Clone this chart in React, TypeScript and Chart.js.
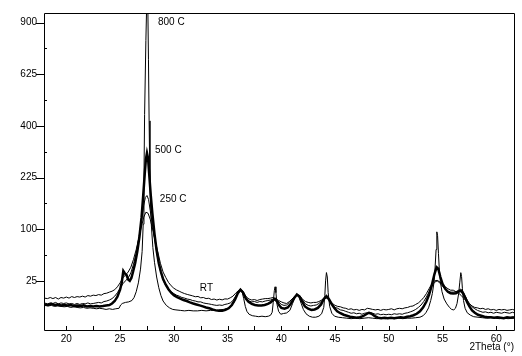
import React, { useEffect, useRef } from 'react';
import { Chart, registerables, LinearScale } from 'chart.js';

// 2Theta (deg) / counts pairs
const rtPattern: [number, number][] = [[17.95,11.1],[18.25,10.8],[18.5,11.5],[18.75,10.8],[19.0,11.5],[19.25,10.5],[19.5,11.5],[19.75,11.1],[20.0,11.8],[20.25,11.1],[20.5,12.1],[20.75,11.5],[21.0,12.1],[21.25,11.8],[21.5,12.4],[21.75,11.8],[22.0,12.8],[22.25,12.4],[22.5,13.1],[22.75,12.8],[23.0,13.5],[23.25,13.1],[23.5,14.2],[23.75,14.5],[24.0,15.3],[24.25,16.0],[24.5,17.2],[24.75,19.6],[25.0,23.1],[25.25,27.9],[25.5,31.0],[25.75,34.3],[26.0,40.0],[26.25,50.2],[26.5,64.6],[26.75,84],[27.0,106.4],[27.2,124.7],[27.4,135.7],[27.6,133.4],[27.8,120.5],[28.0,102.5],[28.25,80.7],[28.5,61.6],[28.75,45.0],[29.0,34.3],[29.25,28.4],[29.5,23.6],[29.75,20.5],[30.0,18.4],[30.25,17.0],[30.5,16.0],[30.75,15.0],[31.0,14.2],[31.25,13.6],[31.5,13.1],[31.75,12.6],[32.0,12.0],[32.25,12.2],[32.5,11.3],[32.75,11.5],[33.0,10.8],[33.25,11.0],[33.5,10.2],[33.75,10.5],[34.0,9.9],[34.25,10.4],[34.5,10.0],[34.75,10.6],[35.0,10.5],[35.25,11.3],[35.5,12.4],[35.75,14.5],[36.0,16.4],[36.2,17.6],[36.4,16.4],[36.6,13.5],[36.8,11.5],[37.0,10.5],[37.25,9.9],[37.5,10.2],[37.75,9.6],[38.0,10.2],[38.25,10.5],[38.5,10.8],[38.75,10.8],[39.0,11.1],[39.25,11.5],[39.5,10.8],[39.75,9.6],[40.0,8.8],[40.25,8.2],[40.5,7.9],[40.75,9.0],[41.0,10.5],[41.25,12.4],[41.5,13.5],[41.75,12.4],[42.0,10.2],[42.25,9.0],[42.5,8.5],[42.75,8.2],[43.0,8.5],[43.25,8.5],[43.5,9.0],[43.75,9.9],[44.0,10.8],[44.2,11.1],[44.4,10.5],[44.6,9.0],[44.8,7.7],[45.0,6.9],[45.25,6.4],[45.5,6.2],[45.75,5.7],[46.0,5.5],[46.25,5.0],[46.5,5.3],[46.75,4.8],[47.0,5.0],[47.25,4.6],[47.5,5.0],[47.75,4.8],[48.0,5.5],[48.25,5.3],[48.5,5.0],[48.75,4.8],[49.0,5.0],[49.25,4.6],[49.5,5.0],[49.75,4.8],[50.0,5.0],[50.25,5.3],[50.5,4.8],[50.75,5.3],[51.0,5.5],[51.25,5.3],[51.5,5.7],[51.75,5.9],[52.0,6.4],[52.25,6.6],[52.5,7.4],[52.75,8.2],[53.0,9.6],[53.25,11.5],[53.5,14.2],[53.75,18.0],[54.0,22.2],[54.25,25.0],[54.5,25.5],[54.75,24.1],[55.0,21.8],[55.25,19.6],[55.5,18.0],[55.75,16.8],[56.0,16.8],[56.25,15.6],[56.5,14.5],[56.75,12.8],[57.0,10.8],[57.25,9.0],[57.5,7.7],[57.75,6.6],[58.0,5.9],[58.25,5.7],[58.5,5.3],[58.75,5.5],[59.0,5.0],[59.25,5.3],[59.5,4.8],[59.75,5.0],[60.0,4.6],[60.25,5.0],[60.5,4.8],[60.75,5.0],[61.0,4.6],[61.25,4.8],[61.5,5.0],[61.65,4.8]];

const pattern250: [number, number][] = [[17.95,8.2],[18.25,7.7],[18.5,8.2],[18.75,7.9],[19.0,8.5],[19.25,7.7],[19.5,8.2],[19.75,7.9],[20.0,8.2],[20.25,7.7],[20.5,7.9],[20.75,7.4],[21.0,7.9],[21.25,7.4],[21.5,7.9],[21.75,7.7],[22.0,8.2],[22.25,7.7],[22.5,7.9],[22.75,8.2],[23.0,8.5],[23.25,8.2],[23.5,9.0],[23.75,9.3],[24.0,9.9],[24.25,10.8],[24.5,12.4],[24.75,14.9],[25.0,18.4],[25.25,22.2],[25.5,25.0],[25.75,27.9],[26.0,33.2],[26.25,43.8],[26.5,58.8],[26.75,84],[27.0,118.6],[27.2,151.9],[27.35,171],[27.5,175.9],[27.65,165.8],[27.8,140],[28.0,110.3],[28.25,77.4],[28.5,51.6],[28.75,35.4],[29.0,26.0],[29.25,20.5],[29.5,17.6],[29.75,15.6],[30.0,14.2],[30.25,13.1],[30.5,12.4],[30.75,11.5],[31.0,11.1],[31.25,10.5],[31.5,10.2],[31.75,9.6],[32.0,9.3],[32.25,8.8],[32.5,8.8],[32.75,8.2],[33.0,7.9],[33.25,7.7],[33.5,7.4],[33.75,7.1],[34.0,6.9],[34.25,7.1],[34.5,6.9],[34.75,7.4],[35.0,7.7],[35.25,8.2],[35.5,9.6],[35.75,12.4],[36.0,15.6],[36.2,17.2],[36.4,15.6],[36.6,12.4],[36.8,10.2],[37.0,9.3],[37.25,8.8],[37.5,9.0],[37.75,8.5],[38.0,9.0],[38.25,8.8],[38.5,9.3],[38.75,9.6],[39.0,9.9],[39.25,10.5],[39.45,11.1],[39.65,9.6],[39.85,8.2],[40.0,7.4],[40.25,6.9],[40.5,7.1],[40.75,8.5],[41.0,10.5],[41.25,12.4],[41.5,13.1],[41.75,12.1],[42.0,9.6],[42.25,7.7],[42.5,6.9],[42.75,6.6],[43.0,6.9],[43.25,7.1],[43.5,7.9],[43.75,9.3],[44.0,10.8],[44.2,11.8],[44.4,10.5],[44.6,8.5],[44.8,6.9],[45.0,5.9],[45.25,5.5],[45.5,4.8],[45.75,4.6],[46.0,4.2],[46.25,3.84],[46.5,3.48],[46.75,3.66],[47.0,3.3],[47.25,3.48],[47.5,3.13],[47.75,3.48],[48.0,3.66],[48.25,3.84],[48.5,3.48],[48.75,3.13],[49.0,3.3],[49.25,2.97],[49.5,3.13],[49.75,2.97],[50.0,3.13],[50.25,2.97],[50.5,3.3],[50.75,3.13],[51.0,3.3],[51.25,3.13],[51.5,3.48],[51.75,3.66],[52.0,4.0],[52.25,4.4],[52.5,5.0],[52.75,5.9],[53.0,7.1],[53.25,9.0],[53.5,11.8],[53.75,15.6],[54.0,20.0],[54.25,23.6],[54.5,25.0],[54.75,23.1],[55.0,20.0],[55.25,17.6],[55.5,16.0],[55.75,15.3],[56.0,15.3],[56.25,15.6],[56.5,16.8],[56.7,17.6],[56.9,16.0],[57.1,12.8],[57.3,9.9],[57.5,7.9],[57.75,6.2],[58.0,5.3],[58.25,4.6],[58.5,4.2],[58.75,3.84],[59.0,4.0],[59.25,3.66],[59.5,3.84],[59.75,3.48],[60.0,3.84],[60.25,3.66],[60.5,3.48],[60.75,3.84],[61.0,3.66],[61.25,3.48],[61.5,3.84],[61.65,3.66]];

const pattern500: [number, number][] = [[17.95,7.4],[18.3,7.1],[18.6,7.7],[18.9,7.1],[19.2,7.4],[19.5,6.9],[19.8,7.1],[20.1,6.9],[20.4,7.1],[20.7,6.6],[21.0,6.9],[21.3,6.6],[21.6,6.9],[21.9,6.4],[22.2,6.6],[22.5,6.4],[22.8,6.6],[23.1,6.4],[23.4,6.6],[23.7,6.9],[24.0,7.1],[24.25,7.9],[24.5,9.3],[24.75,12.1],[25.0,17.2],[25.15,23.1],[25.3,35.4],[25.45,32.6],[25.6,31.0],[25.75,26.4],[25.9,25.0],[26.05,27.9],[26.2,34.3],[26.4,45.0],[26.6,61.6],[26.8,86],[27.0,124.7],[27.15,175.9],[27.3,238.6],[27.4,281],[27.5,302],[27.6,284.6],[27.7,238.6],[27.85,178],[28.0,133.4],[28.2,91.2],[28.4,63],[28.6,45],[28.8,34.3],[29.0,26.9],[29.25,21.4],[29.5,17.6],[29.75,14.9],[30.0,13.1],[30.3,11.8],[30.6,10.8],[30.9,9.9],[31.2,9.3],[31.5,8.5],[31.8,7.9],[32.1,7.4],[32.4,6.9],[32.7,6.4],[33.0,5.9],[33.3,5.5],[33.6,5.0],[33.9,4.6],[34.2,4.4],[34.5,4.4],[34.8,4.8],[35.1,5.5],[35.4,7.1],[35.7,10.2],[35.95,14.5],[36.2,17.2],[36.45,14.9],[36.7,10.8],[36.95,8.8],[37.25,7.7],[37.55,7.1],[37.85,6.9],[38.15,6.9],[38.45,7.1],[38.75,7.7],[39.0,8.5],[39.2,9.6],[39.4,10.5],[39.6,9.0],[39.8,6.9],[40.0,5.7],[40.3,5.3],[40.6,5.9],[40.9,7.9],[41.2,11.1],[41.45,13.5],[41.7,12.1],[41.95,8.8],[42.2,6.4],[42.5,5.3],[42.8,4.8],[43.1,5.0],[43.4,5.7],[43.7,7.4],[43.95,10.5],[44.2,12.4],[44.45,10.2],[44.7,7.4],[44.95,5.5],[45.2,4.2],[45.5,3.48],[45.8,2.97],[46.1,2.66],[46.4,2.35],[46.7,2.2],[47.0,2.06],[47.3,2.2],[47.6,2.5],[47.9,3.13],[48.15,3.66],[48.4,3.3],[48.7,2.5],[49.0,2.06],[49.3,1.93],[49.6,2.06],[49.9,1.93],[50.2,2.06],[50.5,1.93],[50.8,2.06],[51.1,2.2],[51.4,2.06],[51.7,2.35],[52.0,2.5],[52.3,2.81],[52.6,3.3],[52.9,4.22],[53.2,5.93],[53.5,9.0],[53.75,13.5],[54.0,20.9],[54.25,32.1],[54.45,40.0],[54.6,38.3],[54.8,28.9],[55.0,22.2],[55.25,18.0],[55.5,15.6],[55.75,14.5],[56.0,14.2],[56.25,14.5],[56.5,15.6],[56.7,16.4],[56.9,14.5],[57.1,11.5],[57.3,8.5],[57.5,6.4],[57.75,4.6],[58.0,3.66],[58.3,2.97],[58.6,2.66],[58.9,2.35],[59.2,2.2],[59.5,2.2],[59.8,2.06],[60.1,2.2],[60.4,2.06],[60.7,1.93],[61.0,2.2],[61.3,2.06],[61.65,2.2]];

const pattern800: [number, number][] = [[17.95,6.9],[18.3,6.6],[18.6,6.9],[18.9,6.4],[19.2,6.6],[19.5,6.4],[19.8,6.2],[20.1,6.4],[20.4,5.9],[20.7,6.2],[21.0,5.9],[21.3,5.7],[21.6,5.9],[21.9,5.5],[22.2,5.7],[22.5,5.5],[22.8,5.3],[23.1,5.5],[23.4,5.3],[23.7,5.0],[24.0,5.3],[24.3,5.0],[24.6,5.3],[24.9,5.5],[25.05,7.1],[25.2,7.9],[25.5,8.5],[25.8,8.8],[26.1,9.6],[26.3,11.5],[26.5,15.6],[26.7,23.1],[26.9,37.7],[27.05,61.6],[27.15,110],[27.22,220],[27.28,446],[27.4,800],[27.52,1150],[27.58,1000],[27.64,700],[27.7,420],[27.78,196.6],[27.9,110.3],[28.05,67.6],[28.2,46.2],[28.4,28.9],[28.6,18.8],[28.8,12.8],[29.0,9.3],[29.3,6.9],[29.6,5.7],[29.9,5.0],[30.2,4.8],[30.6,4.6],[31.0,4.4],[31.4,4.6],[31.8,4.4],[32.2,4.4],[32.6,4.6],[33.0,4.4],[33.4,4.6],[33.8,4.6],[34.2,4.8],[34.6,5.0],[35.0,5.5],[35.3,6.2],[35.6,8.5],[35.85,12.8],[36.05,16.4],[36.2,17.6],[36.35,15.6],[36.5,10.8],[36.65,6.4],[36.8,4.2],[37.0,3.13],[37.3,2.66],[37.6,2.5],[37.9,2.35],[38.2,2.5],[38.5,2.35],[38.8,2.5],[39.0,2.81],[39.15,3.84],[39.25,8.5],[39.35,16.4],[39.42,19.6],[39.5,14.9],[39.6,7.4],[39.75,4.2],[39.95,3.13],[40.2,3.4],[40.5,3.6],[40.8,4.63],[41.05,7.93],[41.25,11.5],[41.45,13.1],[41.65,11.5],[41.85,7.93],[42.05,5.0],[42.3,3.3],[42.6,2.5],[42.9,2.2],[43.2,2.2],[43.5,2.5],[43.75,3.3],[43.95,5.93],[44.05,12.8],[44.12,25.0],[44.2,33.7],[44.28,28.9],[44.36,14.9],[44.5,6.4],[44.7,3.48],[44.95,2.5],[45.3,2.2],[45.7,2.06],[46.1,1.93],[46.5,1.8],[46.9,1.93],[47.3,1.8],[47.7,1.93],[48.1,2.06],[48.5,1.93],[48.9,1.8],[49.3,1.93],[49.7,1.8],[50.1,1.93],[50.5,1.8],[50.9,1.93],[51.3,1.8],[51.7,1.93],[52.1,1.93],[52.5,2.06],[52.9,2.2],[53.2,2.66],[53.45,3.66],[53.7,5.7],[53.9,9.6],[54.05,14.2],[54.2,23.1],[54.3,37.7],[54.4,64.6],[54.47,95.0],[54.54,88.0],[54.62,58.8],[54.7,37.7],[54.8,24.1],[54.95,15.6],[55.15,10.5],[55.4,7.7],[55.65,5.9],[55.85,5.0],[56.05,4.8],[56.2,5.5],[56.35,7.9],[56.5,14.2],[56.6,23.1],[56.7,33.6],[56.77,29.5],[56.85,18.0],[56.95,9.6],[57.1,5.5],[57.3,3.66],[57.6,2.81],[57.9,2.35],[58.3,2.2],[58.7,2.06],[59.1,1.93],[59.5,2.06],[59.9,1.93],[60.3,1.8],[60.7,1.93],[61.1,1.8],[61.65,1.93]];

const seriesNames = ['RT', '250 C', '500 C', '800 C'];
const xTickValues = [20, 25, 30, 35, 40, 45, 50, 55, 60];
const xMinorTicks = [22.5, 27.5, 32.5, 37.5, 42.5, 47.5, 52.5, 57.5];
const yTickValues = [25, 100, 225, 400, 625, 900];
const yMinorTicks = [56.25, 156.25, 306.25, 506.25, 756.25];
// annotation positions in data units: [2Theta, counts]
const labelAnchors: [number, number][] = [[32.42, 18.0], [28.7, 166], [28.24, 311], [28.52, 900]];

const FONT = '"Liberation Sans", Arial, sans-serif';

class SqrtScale extends LinearScale {
  static id = 'sqrt';
  static defaults = {};
  getPixelForValue(value: number) {
    const lo = Math.sqrt(this.min);
    const hi = Math.sqrt(this.max);
    return this.getPixelForDecimal((Math.sqrt(Math.max(value, 0)) - lo) / (hi - lo));
  }
  getValueForPixel(pixel: number) {
    const lo = Math.sqrt(this.min);
    const hi = Math.sqrt(this.max);
    const s = lo + this.getDecimalForPixel(pixel) * (hi - lo);
    return s * s;
  }
}

Chart.register(...registerables, SqrtScale);

const framePlugin = {
  id: 'xrdFrame',
  afterDraw(chart: any) {
    const { ctx, chartArea: a, scales } = chart;
    const x = scales.x;
    const y = scales.y;
    ctx.save();
    ctx.strokeStyle = '#000';
    ctx.lineWidth = 1;
    ctx.beginPath();
    ctx.rect(a.left + 0.5, a.top + 0.5, a.right - a.left, a.bottom - a.top);
    yTickValues.forEach((v) => {
      const py = Math.round(y.getPixelForValue(v)) + 0.5;
      ctx.moveTo(a.left - 8, py);
      ctx.lineTo(a.left, py);
    });
    yMinorTicks.forEach((v) => {
      const py = Math.round(y.getPixelForValue(v)) + 0.5;
      ctx.moveTo(a.left, py);
      ctx.lineTo(a.left + 3, py);
    });
    [...xTickValues, ...xMinorTicks].forEach((v) => {
      const px = Math.round(x.getPixelForValue(v)) + 0.5;
      ctx.moveTo(px, a.bottom);
      ctx.lineTo(px, a.bottom - 4);
    });
    ctx.stroke();

    ctx.fillStyle = '#000';
    ctx.font = `10px ${FONT}`;
    ctx.textBaseline = 'middle';
    ctx.textAlign = 'left';
    labelAnchors.forEach(([t, c], i) => {
      ctx.fillText(seriesNames[i], x.getPixelForValue(t), y.getPixelForValue(c));
    });
    ctx.textAlign = 'right';
    ctx.fillText('2Theta (°)', a.right, a.bottom + 17);
    ctx.restore();
  },
};

export default function App() {
  const canvasRef = useRef<HTMLCanvasElement | null>(null);

  useEffect(() => {
    const canvas = canvasRef.current;
    if (!canvas) return;
    const patterns = [rtPattern, pattern250, pattern500, pattern800];
    const widths = [1, 1, 2.5, 1];
    const chart = new Chart(canvas, {
      type: 'line',
      data: {
        datasets: patterns.map((p, i) => ({
          label: seriesNames[i],
          data: p,
          borderColor: '#000',
          borderWidth: widths[i],
          pointRadius: 0,
          tension: 0,
          fill: false,
        })),
      },
      options: {
        animation: false,
        responsive: false,
        maintainAspectRatio: false,
        events: [],
        layout: { padding: { left: 0, top: 7, right: 8, bottom: 0 } },
        plugins: { legend: { display: false }, tooltip: { enabled: false } },
        scales: {
          x: {
            type: 'linear',
            min: 17.92,
            max: 61.65,
            grid: { display: false, drawTicks: false },
            border: { display: false },
            ticks: {
              autoSkip: false,
              maxRotation: 0,
              padding: 3,
              color: '#000',
              font: { family: FONT, size: 10 },
              callback: (v: any) => String(v),
            },
            afterBuildTicks: (s: any) => {
              s.ticks = xTickValues.map((v) => ({ value: v }));
            },
            afterFit: (s: any) => {
              s.height = 26;
            },
          },
          y: {
            type: 'sqrt' as any,
            min: 0.06,
            max: 957,
            grid: { display: false, drawTicks: false },
            border: { display: false },
            ticks: {
              autoSkip: false,
              padding: 7,
              color: '#000',
              font: { family: FONT, size: 10 },
              callback: (v: any) => String(v),
            },
            afterBuildTicks: (s: any) => {
              s.ticks = yTickValues.map((v) => ({ value: v }));
            },
            afterFit: (s: any) => {
              s.width = 44;
            },
          },
        },
      },
      plugins: [framePlugin],
    });
    return () => chart.destroy();
  }, []);

  return (
    <div style={{ position: 'absolute', left: 0, top: 0, width: 522, height: 356, background: '#fff' }}>
      <canvas ref={canvasRef} width={522} height={356} style={{ display: 'block', width: 522, height: 356 }} />
    </div>
  );
}
